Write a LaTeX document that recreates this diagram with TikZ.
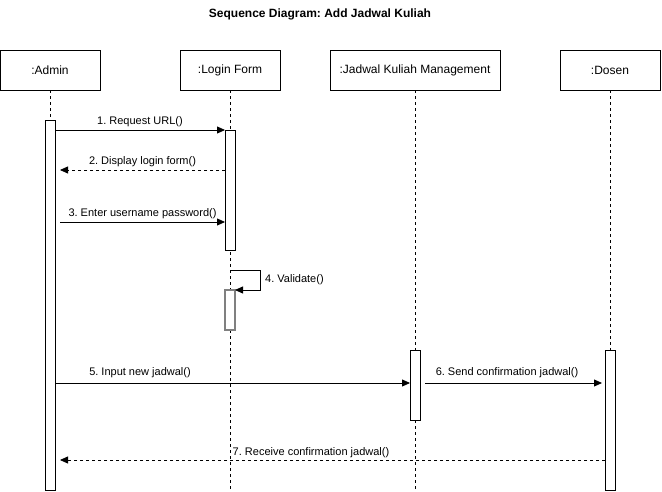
\documentclass[tikz,border=0pt]{standalone}
\usepackage{fontspec}
\setmainfont{Liberation Sans}
\usetikzlibrary{arrows.meta}
\frenchspacing

\tikzset{
  obj/.style={draw, line width=0.8pt, minimum height=40pt, inner sep=0pt, font=\fontsize{12}{14}\selectfont},
  act/.style={draw, fill=white, line width=0.8pt, minimum width=10pt, inner sep=0pt},
  life/.style={dashed, dash pattern=on 3pt off 3pt, line width=0.8pt},
  msg/.style={line width=0.8pt, -{Triangle[length=8pt,width=7pt]}},
  ret/.style={msg, dash pattern=on 3pt off 3pt},
  lbl/.style={font=\fontsize{11}{13}\selectfont, inner sep=0pt}
}

\begin{document}
\begin{tikzpicture}[x=1pt, y=-1pt]
  \useasboundingbox (0,0) rectangle (662,492);

  % title
  \node[font=\bfseries\fontsize{12}{14}\selectfont] (title) at (320,14) {Sequence Diagram: Add Jadwal Kuliah};

  % objects
  \node[obj, minimum width=100pt] (admin) at ( 50,70) {:Admin};
  \node[obj, minimum width=100pt] (login) at (230,70) {:Login Form};
  \node[obj, minimum width=170pt] (jkm)   at (415,70) {:Jadwal Kuliah Management};
  \node[obj, minimum width=100pt] (dosen) at (610,70) {:Dosen};

  % lifelines
  \coordinate (adminEnd) at ( 50,490);
  \coordinate (loginEnd) at (230,490);
  \coordinate (jkmEnd)   at (415,490);
  \coordinate (dosenEnd) at (610,490);
  \draw[life] (admin.south) -- (adminEnd);
  \draw[life] (login.south) -- (loginEnd);
  \draw[life] (jkm.south)   -- (jkmEnd);
  \draw[life] (dosen.south) -- (dosenEnd);

  % activations
  \node[act, minimum height=370pt] (actAdmin) at ( 50,305) {};
  \node[act, minimum height=120pt] (actLogin) at (230,190) {};
  \node[act, minimum height=40pt, draw=black!50, line width=1.2pt] (actValid) at (230,310) {};
  \node[act, minimum height=70pt]  (actJkm)   at (415,385) {};
  \node[act, minimum height=140pt] (actDosen) at (610,420) {};

  % message ends
  \coordinate (m1a) at ( 55,130); \coordinate (m1b) at (225,130);
  \coordinate (m2a) at (225,170); \coordinate (m2b) at ( 60,170);
  \coordinate (m3a) at ( 60,222); \coordinate (m3b) at (225,222);
  \coordinate (m4a) at (230,270); \coordinate (m4b) at (235,290);
  \coordinate (m5a) at ( 55,383); \coordinate (m5b) at (410,383);
  \coordinate (m6a) at (425,383); \coordinate (m6b) at (602,383);
  \coordinate (m7a) at (605,460); \coordinate (m7b) at ( 60,460);

  \draw[msg] (m1a) -- (m1b) node[lbl, midway, above=3pt] (l1) {1. Request URL()};
  \draw[ret] (m2a) -- (m2b) node[lbl, midway, above=3pt] (l2) {2. Display login form()};
  \draw[msg] (m3a) -- (m3b) node[lbl, midway, above=3pt] (l3) {3. Enter username password()};
  \draw[msg] (m4a) -- (260,270) -- (260,290) -- (m4b);
  \node[lbl, anchor=west] (l4) at (265,280) {4. Validate()};
  \draw[msg] (m5a) -- (m5b);
  \node[lbl] (l5) at (140,373) {5. Input new jadwal()};
  \draw[msg] (m6a) -- (m6b);
  \node[lbl] (l6) at (507,373) {6. Send confirmation jadwal()};
  \draw[ret] (m7a) -- (m7b);
  \node[lbl] (l7) at (311,453) {7. Receive confirmation jadwal()};

\end{tikzpicture}
\end{document}
